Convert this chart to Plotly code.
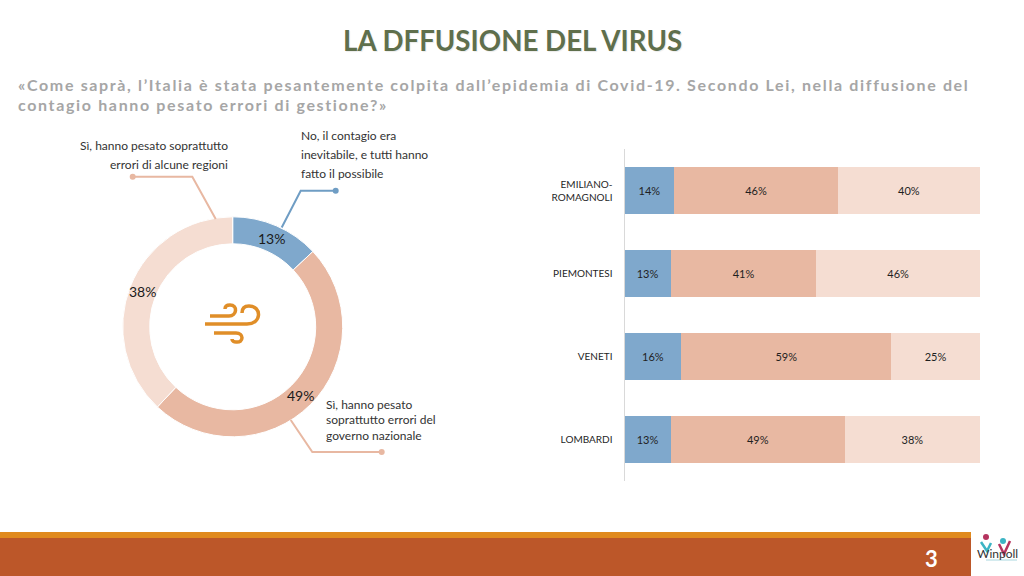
import math
import plotly.graph_objects as go

# ---- data ----
title_text = "LA DFFUSIONE DEL VIRUS"
subtitle_lines = [
    "«Come saprà, l’Italia è stata pesantemente colpita dall’epidemia di Covid-19. Secondo Lei, nella diffusione del",
    "contagio hanno pesato errori di gestione?»",
]
page_number = "3"
answers = ["No", "Sì, governo nazionale", "Sì, alcune regioni"]
overall = [13, 49, 38]
regions = ["EMILIANO-<br>ROMAGNOLI", "PIEMONTESI", "VENETI", "LOMBARDI"]
no_values = [14, 13, 16, 13]
gov_values = [46, 41, 59, 49]
reg_values = [40, 46, 25, 38]
colors = ["#7FA8CC", "#E8B8A2", "#F5DDD2"]

W, H = 1024, 576
FONT = "Lato"
CX, CY, R_OUT, R_IN = 232.7, 326.8, 110, 83


def px(x):
    return x / W


def py(y):
    return 1 - y / H


def path(*items):
    out = []
    for it in items:
        if isinstance(it, str):
            out.append(it)
        else:
            out.append(f"{px(it[0]):.5f},{py(it[1]):.5f}")
    return " ".join(out)


fig = go.Figure()

fig.add_trace(go.Pie(
    values=overall, labels=answers, hole=R_IN / R_OUT, sort=False, direction="clockwise", rotation=0,
    marker=dict(colors=colors, line=dict(color="white", width=1)),
    textinfo="none",
    domain=dict(x=[px(CX - R_OUT), px(CX + R_OUT)], y=[py(CY + R_OUT), py(CY - R_OUT)]),
    showlegend=False, hoverinfo="skip",
))

for name, vals, c in zip(answers, [no_values, gov_values, reg_values], colors):
    fig.add_trace(go.Bar(
        y=regions, x=vals, orientation="h", name=name, marker=dict(color=c, line=dict(width=0)),
        text=[f"{v}%" for v in vals], textposition="inside", insidetextanchor="middle",
        textangle=0, constraintext="none",
        textfont=dict(family=FONT, size=11, color="#1f1f1f"),
        showlegend=False, hoverinfo="skip",
    ))

annotations = []


def note(x, y, text, size=12, color="#333333", anchor="left", bold=False):
    nudge = {"left": -2, "right": 2, "center": 0}[anchor]
    annotations.append(dict(
        x=px(x + nudge), y=py(y), xref="paper", yref="paper", text=f"<b>{text}</b>" if bold else text,
        showarrow=False, xanchor=anchor, yanchor="middle", align=anchor,
        font=dict(family=FONT, size=size, color=color),
    ))


# subtitle first: the page script below spaces annotations 0 and 1
note(18, 84, subtitle_lines[0], size=16, color="#A6A6A6", bold=True)
note(18, 105, subtitle_lines[1], size=16, color="#A6A6A6", bold=True)

annotations.append(dict(
    x=px(512), y=py(40.5), xref="paper", yref="paper", text=f"<b>{title_text}</b>", showarrow=False,
    xanchor="center", yanchor="middle",
    font=dict(family=FONT, size=27.7, color="#5F6F4C", shadow="1px 1px 1px rgba(0,0,0,0.08)"),
))

# donut percentages, centred in the ring at each slice's mid-angle
cum = 0
total = sum(overall)
for v in overall:
    ang = 2 * math.pi * (cum + v / 2) / total
    cum += v
    r = (R_OUT + R_IN) / 2
    note(CX + r * math.sin(ang), CY - r * math.cos(ang), f"{v}%", size=14, color="#1a1a1a", anchor="center")

for y, t in zip([145, 165], ["Sì, hanno pesato soprattutto", "errori di alcune regioni"]):
    note(228, y, t, anchor="right")
for y, t in zip([135, 154, 174], ["No, il contagio era", "inevitabile, e tutti hanno", "fatto il possibile"]):
    note(301, y, t)
for y, t in zip([404, 419, 435], ["Sì, hanno pesato", "soprattutto errori del", "governo nazionale"]):
    note(326, y, t)

note(931, 558, page_number, size=22, color="white", anchor="center", bold=True)
note(997, 553.5, "Winpoll", size=12, color="#333333", anchor="center")

shapes = []

# footer band
shapes.append(dict(type="rect", xref="paper", yref="paper", x0=0, x1=px(971), y0=py(576), y1=py(538),
                   fillcolor="#BC5729", line=dict(width=0)))
shapes.append(dict(type="rect", xref="paper", yref="paper", x0=0, x1=px(971), y0=py(538), y1=py(532),
                   fillcolor="#E08A1E", line=dict(width=0)))


def leader(points, color):
    shapes.append(dict(type="path", xref="paper", yref="paper",
                       path=path("M", points[0], *[s for p in points[1:] for s in ("L", p)]),
                       line=dict(color=color, width=2)))
    x, y = points[-1]
    shapes.append(dict(type="circle", xref="paper", yref="paper",
                       x0=px(x - 3), x1=px(x + 3), y0=py(y + 3), y1=py(y - 3),
                       fillcolor=color, line=dict(width=0)))


leader([(281.7, 227.5), (300.7, 190.7), (335.7, 190.7)], "#6F9DC4")
leader([(215.7, 219), (192.3, 176.7), (132.7, 176.7)], "#E8B8A2")
leader([(290.7, 420), (312.3, 452), (381.7, 452)], "#E8B8A2")

# wind icon
ICON = "#E08E28"
wind = [
    path("M", (210, 316), "L", (229, 316), "C", (237, 316), (238, 305), (230, 305), "C", (227, 305), (225, 306), (225, 309)),
    path("M", (205, 324), "L", (247, 324), "C", (262, 324), (262, 306), (249, 306), "C", (244, 306), (242, 309), (242, 313)),
    path("M", (214, 333), "L", (236, 333), "C", (244, 333), (244, 343), (236, 342), "C", (234, 342), (232, 341), (232, 339)),
]
for d in wind:
    shapes.append(dict(type="path", xref="paper", yref="paper", path=d,
                       line=dict(color=ICON, width=3.5)))

# logo
PINK, TEAL = "#B5345F", "#3CB4C4"
shapes.append(dict(type="path", xref="paper", yref="paper",
                   path=path("M", (981, 542), "L", (987, 551), "L", (991, 543)),
                   line=dict(color=TEAL, width=2.5)))
shapes.append(dict(type="path", xref="paper", yref="paper",
                   path=path("M", (999, 544), "L", (1004, 554), "L", (1010, 541)),
                   line=dict(color=PINK, width=2.5)))
shapes.append(dict(type="circle", xref="paper", yref="paper",
                   x0=px(983), x1=px(989), y0=py(540), y1=py(534),
                   fillcolor=PINK, line=dict(width=0)))
shapes.append(dict(type="circle", xref="paper", yref="paper",
                   x0=px(1000), x1=px(1006), y0=py(544), y1=py(538),
                   fillcolor=TEAL, line=dict(width=0)))
shapes.append(dict(type="line", xref="paper", yref="paper",
                   x0=px(986), x1=px(1017), y0=py(560), y1=py(560),
                   line=dict(color="#A9D8DF", width=1)))

fig.update_layout(
    width=W, height=H, margin=dict(l=0, r=0, t=0, b=0),
    paper_bgcolor="white", plot_bgcolor="white",
    barmode="stack", bargap=0.434, uniformtext=dict(mode=False),
    xaxis=dict(domain=[px(624.5), px(980)], range=[0, 100], visible=False, fixedrange=True),
    yaxis=dict(domain=[py(481), py(149)], autorange="reversed", showgrid=False, ticks="",
               showline=True, linecolor="#D9D9D9", linewidth=1, zeroline=False,
               tickfont=dict(family=FONT, size=10, color="#1f1f1f"), ticklabelstandoff=9),
    annotations=annotations, shapes=shapes,
    font=dict(family=FONT),
)

page_js = """
document.body.style.margin = '0';
var st = document.createElement('style');
st.textContent = '.annotation[data-index="0"] text, .annotation[data-index="1"] text {letter-spacing: 1.65px;}';
document.head.appendChild(st);
"""
fig.write_html("out.html", post_script=page_js, config={"displayModeBar": False})
